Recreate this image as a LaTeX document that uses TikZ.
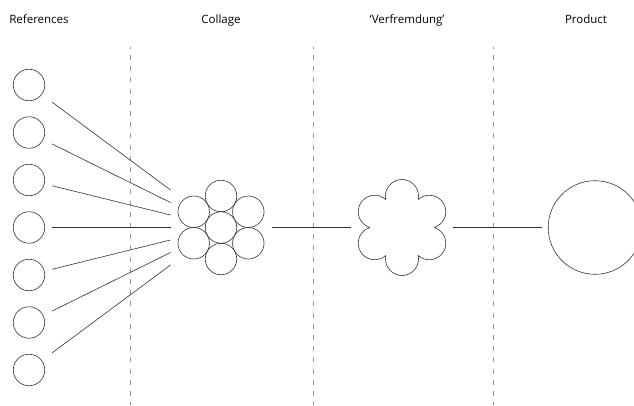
\documentclass[tikz,border=0pt]{standalone}
\usepackage{fontspec}
\setmainfont{Open Sans}
\usepackage{tikz}
\usetikzlibrary{calc}
\tikzset{ball/.style={circle, draw=black!80, line width=0.6pt, minimum size=31.5pt, inner sep=0pt, outer sep=0pt},
         zone/.style={circle, minimum size=101.6pt, inner sep=0pt, outer sep=0pt},
         link/.style={draw=black!80, line width=0.6pt},
         divider/.style={draw=black!40, line width=0.6pt, dash pattern=on 5pt off 6.2pt, dash phase=2.7pt},
         stage/.style={anchor=base, font=\fontsize{11.5}{13}\selectfont, text=black}}

\begin{document}
\begin{tikzpicture}[x=1pt, y=-1pt]
                \useasboundingbox (0,0) rectangle (634,405);
                \clip (0,0) rectangle (634,405);

                \node[stage] (tref) at (39,23) {References};
                \node[stage] (tcol) at (221,23) {Collage};
                \node[stage] (tver) at (407,23) {`Verfremdung'};
                \node[stage] (tprd) at (586,23) {Product};

                \draw[divider] (130,46.5) -- (130,405);
                \draw[divider] (313,46.5) -- (313,405);
                \draw[divider] (493,46.5) -- (493,405);

                \node[ball] (r1) at (29,85) {};
                \node[ball] (r2) at (29,132.5) {};
                \node[ball] (r3) at (29,180) {};
                \node[ball] (r4) at (29,227.5) {};
                \node[ball] (r5) at (29,275) {};
                \node[ball] (r6) at (29,322.5) {};
                \node[ball] (r7) at (29,370) {};

                \node[ball] (c0) at (221,227.5) {};
                \node[ball] (c1) at ($(c0)+(90:31.5)$) {};
                \node[ball] (c2) at ($(c0)+(30:31.5)$) {};
                \node[ball] (c3) at ($(c0)+(-30:31.5)$) {};
                \node[ball] (c4) at ($(c0)+(-90:31.5)$) {};
                \node[ball] (c5) at ($(c0)+(-150:31.5)$) {};
                \node[ball] (c6) at ($(c0)+(150:31.5)$) {};
                \node[zone] (colz) at (c0) {};

                \draw[link] ($(r1)!0.12!(c0)$) -- ($(r1)!0.738!(c0)$);
                \draw[link] ($(r2)!0.12!(c0)$) -- ($(r2)!0.738!(c0)$);
                \draw[link] ($(r3)!0.12!(c0)$) -- ($(r3)!0.738!(c0)$);
                \draw[link] ($(r4)!0.12!(c0)$) -- ($(r4)!0.738!(c0)$);
                \draw[link] ($(r5)!0.12!(c0)$) -- ($(r5)!0.738!(c0)$);
                \draw[link] ($(r6)!0.12!(c0)$) -- ($(r6)!0.738!(c0)$);
                \draw[link] ($(r7)!0.12!(c0)$) -- ($(r7)!0.738!(c0)$);

                \coordinate (flw) at (402,227.5);
                \node[zone] (flwz) at (flw) {};
                \draw[link] ($(flw)+(90:31.5)+(-12.65:16.5)$) arc[start angle=-12.65, end angle=192.65, radius=16.5]
                            ($(flw)+(150:31.5)+(47.35:16.5)$) arc[start angle=47.35, end angle=252.65, radius=16.5]
                            ($(flw)+(210:31.5)+(107.35:16.5)$) arc[start angle=107.35, end angle=312.65, radius=16.5]
                            ($(flw)+(270:31.5)+(167.35:16.5)$) arc[start angle=167.35, end angle=372.65, radius=16.5]
                            ($(flw)+(330:31.5)+(227.35:16.5)$) arc[start angle=227.35, end angle=432.65, radius=16.5]
                            ($(flw)+(30:31.5)+(-72.65:16.5)$) arc[start angle=-72.65, end angle=132.65, radius=16.5];

                \node[ball, minimum size=93.6pt, outer sep=6.6pt] (prd) at (595,227.5) {};

                \draw[link] (colz) -- (flwz);
                \draw[link] (flwz) -- (prd);
            \end{tikzpicture}
\end{document}
